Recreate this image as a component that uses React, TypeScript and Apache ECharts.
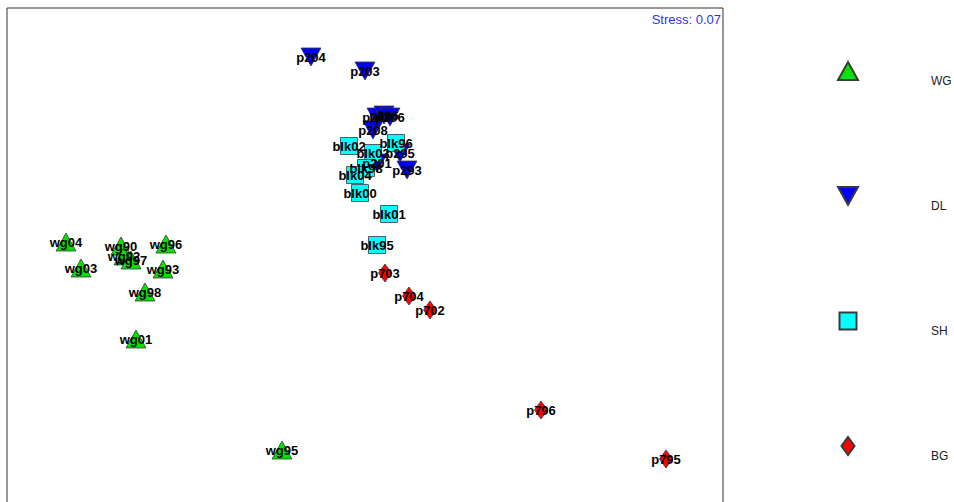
import React, { useEffect, useRef } from "react";
import * as echarts from "echarts";

// MDS ordination coordinates (arbitrary units), one set of arrays per group
const wgNames = ["wg04", "wg03", "wg90", "wg92", "wg97", "wg96", "wg93", "wg98", "wg01", "wg95"];
const wgX = [-1.495, -1.42, -1.22, -1.205, -1.17, -0.995, -1.01, -1.1, -1.145, -0.415];
const wgY = [0.1, -0.03, 0.08, 0.03, 0.01, 0.09, -0.035, -0.15, -0.385, -0.94];

const dlNames = ["p204", "p203", "p200", "p296", "p206", "p208", "p295", "p201", "p293"];
const dlX = [-0.27, 0.0, 0.06, 0.095, 0.125, 0.04, 0.175, 0.06, 0.21];
const dlY = [1.025, 0.955, 0.725, 0.735, 0.725, 0.66, 0.545, 0.495, 0.46];

const shNames = ["blk02", "blk96", "blk03", "blk98", "blk04", "blk00", "blk01", "blk95"];
const shX = [-0.08, 0.155, 0.04, 0.005, -0.05, -0.025, 0.12, 0.06];
const shY = [0.58, 0.595, 0.545, 0.47, 0.435, 0.345, 0.24, 0.085];

const bgNames = ["p703", "p704", "p702", "p796", "p795"];
const bgX = [0.1, 0.22, 0.325, 0.88, 1.505];
const bgY = [-0.055, -0.17, -0.24, -0.74, -0.985];

const stressText = "Stress: 0.07";

type Group = {
  name: string;
  names: string[];
  xs: number[];
  ys: number[];
  symbol: string;
  rotate: number;
  size: [number, number];
  color: string;
  icon: string;
};

const groups: Group[] = [
  { name: "WG", names: wgNames, xs: wgX, ys: wgY, symbol: "triangle", rotate: 0, size: [20, 18], color: "#00e400", icon: "triangle" },
  { name: "DL", names: dlNames, xs: dlX, ys: dlY, symbol: "triangle", rotate: 180, size: [20, 18], color: "#0000ff", icon: "path://M0,0L20,0L10,18Z" },
  { name: "SH", names: shNames, xs: shX, ys: shY, symbol: "rect", rotate: 0, size: [17, 17], color: "#00ffff", icon: "rect" },
  { name: "BG", names: bgNames, xs: bgX, ys: bgY, symbol: "diamond", rotate: 0, size: [13, 18], color: "#ff0000", icon: "diamond" },
];

export default function App() {
  const ref = useRef<HTMLDivElement>(null);

  useEffect(() => {
    document.body.style.margin = "0";
    document.body.style.overflow = "hidden";
    if (!ref.current) return;
    const chart = echarts.init(ref.current, undefined, { renderer: "svg" });

    const series = groups.map((g) => ({
      name: g.name,
      type: "scatter",
      symbol: g.symbol,
      symbolRotate: g.rotate,
      symbolSize: g.size,
      itemStyle: { color: g.color, borderColor: "#3a3a3a", borderWidth: 0.8, opacity: 1 },
      label: {
        show: true,
        position: "inside",
        color: "#000",
        fontFamily: "Arial",
        fontWeight: "bold",
        fontSize: 13,
        formatter: (p: any) => p.data[2],
      },
      emphasis: { disabled: true },
      data: g.xs.map((x, i) => [x, g.ys[i], g.names[i]]),
    }));

    const legends = groups.map((g, i) => ({
      data: [{ name: g.name, icon: g.icon }],
      orient: "vertical",
      left: 847 - g.size[0] / 2,
      top: 52 + i * 125,
      padding: 0,
      itemWidth: g.size[0],
      itemHeight: g.size[1],
      selectedMode: false,
      formatter: "\n{name}",
      textStyle: {
        color: "#222",
        fontFamily: "Arial",
        fontSize: 12,
        lineHeight: 19,
        padding: [0, 0, 0, 930 - (847 + g.size[0] / 2) - 5],
      },
    }));

    chart.setOption({
      animation: false,
      backgroundColor: "#fff",
      grid: {
        left: 7,
        right: 231,
        top: 8,
        bottom: 4,
        show: true,
        borderColor: "#333",
        borderWidth: 1,
      },
      xAxis: { type: "value", min: -1.79, max: 1.79, show: false },
      yAxis: { type: "value", min: -1.27, max: 1.27, show: false },
      legend: legends,
      graphic: [
        {
          type: "text",
          right: 233,
          top: 13,
          style: { text: stressText, fill: "#3030ff", font: "13px Arial" },
        },
      ],
      series,
    });

    return () => chart.dispose();
  }, []);

  return <div ref={ref} style={{ width: 954, height: 520 }} />;
}
